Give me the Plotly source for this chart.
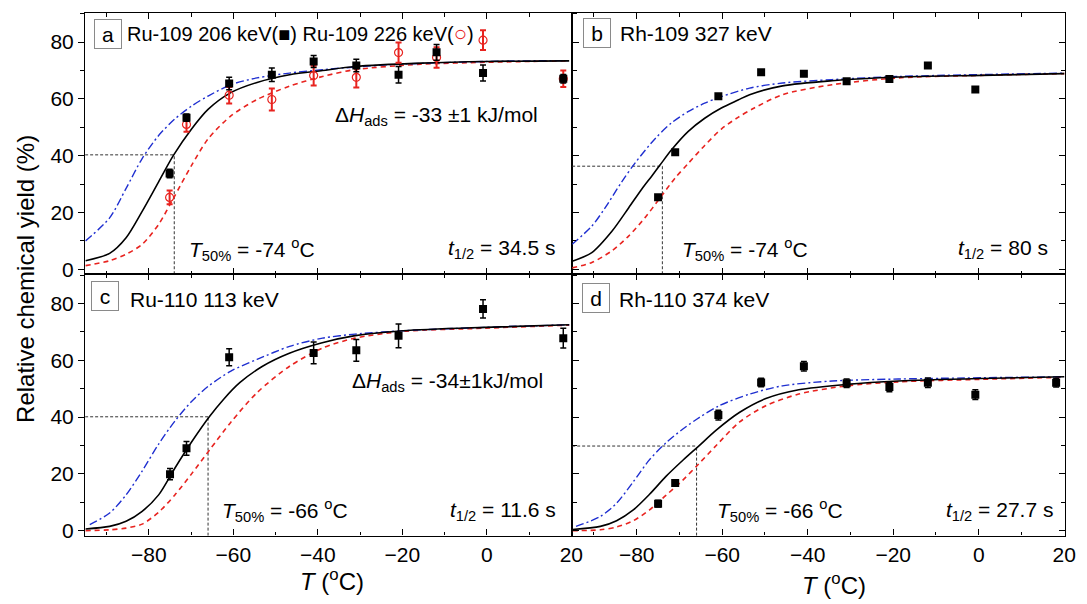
import plotly.graph_objects as go

# ---------------- measured yields ----------------
T_a = [-75.1, -71.1, -61.0, -50.9, -41.0, -30.9, -20.9, -11.9, -0.9, 18.1]
Y_a_206 = [33.7, 53.4, 65.4, 68.5, 73.2, 71.8, 68.5, 76.4, 69.1, 67.1]
E_a_206 = [1.5, 1.3, 2.2, 2.4, 2.1, 2.2, 2.9, 2.8, 2.8, 1.5]
Y_a_226 = [25.3, 51.0, 61.3, 59.8, 68.2, 67.6, 76.3, 74.6, 80.7, 67.1]
E_a_226 = [2.4, 2.6, 2.9, 3.9, 3.5, 3.6, 3.6, 3.6, 3.5, 2.9]

T_b = [-75.0, -71.0, -60.9, -50.9, -40.9, -30.9, -20.9, -11.9, -0.8]
Y_b = [25.4, 41.2, 60.9, 69.4, 68.9, 66.2, 67.0, 71.8, 63.3]

T_c = [-75.0, -71.1, -61.0, -41.0, -30.9, -20.9, -0.9, 18.1]
Y_c = [19.9, 29.0, 61.1, 62.6, 63.5, 68.6, 78.1, 67.8]
E_c = [2.0, 2.4, 3.0, 3.8, 3.8, 4.2, 3.2, 3.5]

T_d = [-75.0, -71.0, -60.9, -50.9, -40.9, -30.9, -20.9, -11.9, -0.8, 18.1]
Y_d = [9.5, 16.8, 40.7, 52.2, 57.9, 51.9, 50.6, 52.1, 47.9, 52.1]
E_d = [1.2, 1.0, 1.7, 1.5, 1.7, 1.5, 1.7, 1.7, 1.7, 1.5]

# ---------------- model curves (fit, upper and lower bound) ----------------
Ta_fit = [-95.0, -89.3, -85.4, -81.6, -77.7, -74.2, -69.9, -66.0, -60.6, -54.4, -46.7, -38.9, -31.2, -15.6, -0.2, 19.5]
Ya_fit = [3.0, 5.6, 11.1, 20.4, 30.8, 40.1, 49.4, 56.3, 62.2, 65.8, 68.5, 70.0, 71.4, 72.6, 73.2, 73.4]
Ta_hi = [-95.0, -89.3, -85.4, -81.6, -77.7, -73.9, -69.9, -66.0, -60.6, -54.4, -46.7, -38.9, -23.4, -0.2, 19.5]
Ya_hi = [10.0, 18.1, 28.5, 39.0, 47.1, 52.9, 57.5, 61.0, 65.0, 67.4, 69.1, 70.3, 72.0, 73.2, 73.5]
Ta_lo = [-95.0, -89.3, -85.4, -81.6, -77.7, -74.2, -69.9, -66.0, -60.6, -54.4, -46.7, -38.9, -31.2, -15.6, -0.2, 19.5]
Ya_lo = [1.3, 3.0, 5.3, 8.8, 15.8, 25.0, 36.6, 45.9, 54.0, 59.8, 64.5, 67.9, 70.3, 72.2, 72.9, 73.4]

Tb_fit = [-95.1, -90.5, -85.8, -81.9, -78.8, -76.5, -74.6, -71.9, -68.0, -64.1, -60.2, -56.3, -53.6, -45.9, -34.3, -18.8, 0.6, 20.0]
Yb_fit = [2.8, 5.9, 13.4, 21.6, 28.3, 32.8, 36.6, 42.0, 48.5, 53.2, 56.8, 59.6, 61.5, 64.6, 66.4, 67.7, 68.3, 68.9]
Tb_hi = [-95.1, -90.5, -87.4, -83.5, -80.4, -75.7, -71.9, -68.0, -64.1, -60.2, -53.6, -45.9, -34.3, -18.8, 20.0]
Yb_hi = [8.8, 15.2, 21.6, 30.8, 37.4, 46.0, 51.5, 55.5, 58.5, 60.8, 63.8, 65.6, 66.8, 67.9, 69.1]
Tb_lo = [-95.1, -90.5, -85.8, -81.9, -78.1, -74.6, -71.1, -68.0, -64.1, -60.2, -56.3, -52.5, -45.9, -34.3, -18.8, 0.6, 20.0]
Yb_lo = [0.5, 2.4, 6.5, 11.7, 18.1, 25.0, 32.0, 37.2, 43.6, 49.4, 53.5, 56.8, 61.5, 65.0, 67.4, 68.3, 68.9]

Tc_fit = [-95.0, -89.3, -85.4, -81.6, -77.7, -73.9, -69.9, -65.7, -62.3, -58.5, -53.1, -46.9, -39.2, -31.5, -19.8, -0.5, 19.5]
Yc_fit = [0.6, 1.5, 3.3, 6.8, 12.6, 21.9, 31.2, 40.1, 46.3, 52.1, 57.9, 62.4, 66.1, 68.6, 70.4, 71.6, 72.5]
Tc_hi = [-94.0, -89.3, -85.4, -81.6, -77.7, -73.9, -69.9, -66.0, -60.6, -54.4, -46.7, -38.9, -31.2, -19.8, -0.5, 19.5]
Yc_hi = [2.1, 6.2, 12.6, 21.0, 30.5, 38.5, 45.5, 50.8, 56.2, 60.3, 64.9, 67.8, 69.2, 70.4, 71.6, 72.5]
Tc_lo = [-95.0, -89.3, -85.4, -81.6, -77.7, -73.9, -69.9, -65.7, -60.6, -54.4, -46.7, -38.9, -31.2, -19.6, -0.5, 19.5]
Yc_lo = [0.0, 0.3, 0.9, 2.3, 6.5, 12.5, 20.0, 28.3, 38.2, 48.6, 57.9, 64.3, 67.8, 70.2, 71.3, 72.4]

Td_fit = [-95.0, -88.5, -84.7, -80.8, -77.0, -73.1, -69.2, -65.5, -61.4, -56.0, -49.8, -42.1, -30.9, -18.8, 0.6, 20.0]
Yd_fit = [0.4, 1.5, 3.5, 7.3, 12.8, 19.2, 24.8, 29.8, 35.4, 41.6, 46.5, 49.6, 51.5, 52.7, 53.6, 54.2]
Td_hi = [-94.2, -88.5, -84.7, -80.8, -77.0, -73.1, -69.2, -65.3, -60.7, -53.6, -45.9, -34.3, -18.8, 20.0]
Yd_hi = [1.5, 5.0, 9.7, 17.2, 25.0, 31.0, 35.8, 39.9, 44.0, 48.1, 51.0, 52.7, 53.4, 54.2]
Td_lo = [-95.0, -88.5, -84.7, -80.8, -77.0, -73.1, -69.2, -65.5, -61.4, -56.0, -49.8, -42.1, -30.9, -18.8, 0.6, 20.0]
Yd_lo = [0.0, 0.3, 1.3, 3.5, 7.3, 12.5, 17.8, 23.5, 30.0, 38.2, 44.0, 48.1, 51.0, 52.4, 53.3, 54.0]

# half-yield temperatures and the yield at that point
T50 = {"a": -74, "b": -74, "c": -66, "d": -66}
Y50 = {"a": 40.3, "b": 36.3, "c": 40.1, "d": 29.8}

X_RANGE = [-95.1, 20.2]
Y_RANGE = [-1.75, 90.3]
X_TICKS = [-80, -60, -40, -20, 0, 20]
Y_TICKS = [0, 20, 40, 60, 80]

W, H = 1087, 604
FONT = "Arial, Liberation Sans, sans-serif"
RED = "#e8231f"
BLUE = "#1f2fd0"

fig = go.Figure()

panels = {
    "a": dict(xa="x", ya="y"),
    "b": dict(xa="x2", ya="y2"),
    "c": dict(xa="x3", ya="y3"),
    "d": dict(xa="x4", ya="y4"),
}
curves = {
    "a": ((Ta_fit, Ya_fit), (Ta_hi, Ya_hi), (Ta_lo, Ya_lo)),
    "b": ((Tb_fit, Yb_fit), (Tb_hi, Yb_hi), (Tb_lo, Yb_lo)),
    "c": ((Tc_fit, Yc_fit), (Tc_hi, Yc_hi), (Tc_lo, Yc_lo)),
    "d": ((Td_fit, Yd_fit), (Td_hi, Yd_hi), (Td_lo, Yd_lo)),
}

guide = dict(color="#333", width=1, dash="3px,2px")
for key, ax in panels.items():
    xa, ya = ax["xa"], ax["ya"]
    # T50% guide lines
    fig.add_trace(go.Scatter(x=[X_RANGE[0], T50[key]], y=[Y50[key], Y50[key]], mode="lines",
                             line=guide, xaxis=xa, yaxis=ya, showlegend=False, hoverinfo="skip"))
    fig.add_trace(go.Scatter(x=[T50[key], T50[key]], y=[Y_RANGE[0], Y50[key]], mode="lines",
                             line=guide, xaxis=xa, yaxis=ya, showlegend=False, hoverinfo="skip"))
    (fx, fy), (hx, hy), (lx, ly) = curves[key]
    fig.add_trace(go.Scatter(x=lx, y=ly, mode="lines",
                             line=dict(color=RED, width=1.6, dash="5px,4px", shape="spline", smoothing=0.8),
                             xaxis=xa, yaxis=ya, showlegend=False))
    fig.add_trace(go.Scatter(x=hx, y=hy, mode="lines",
                             line=dict(color=BLUE, width=1.4, dash="8px,3px,2px,3px", shape="spline", smoothing=0.8),
                             xaxis=xa, yaxis=ya, showlegend=False))
    fig.add_trace(go.Scatter(x=fx, y=fy, mode="lines",
                             line=dict(color="black", width=1.6, shape="spline", smoothing=0.8),
                             xaxis=xa, yaxis=ya, showlegend=False))

# measured points
sq = dict(symbol="square", size=8, color="black")
fig.add_trace(go.Scatter(x=T_a, y=Y_a_226, mode="markers",
                         marker=dict(symbol="circle-open", size=8, color=RED, line=dict(width=1.2)),
                         error_y=dict(type="data", array=E_a_226, color=RED, thickness=2, width=3),
                         xaxis="x", yaxis="y", showlegend=False))
fig.add_trace(go.Scatter(x=T_a, y=Y_a_206, mode="markers", marker=sq,
                         error_y=dict(type="data", array=E_a_206, color="black", thickness=1.5, width=3),
                         xaxis="x", yaxis="y", showlegend=False))
fig.add_trace(go.Scatter(x=T_b, y=Y_b, mode="markers", marker=sq, xaxis="x2", yaxis="y2", showlegend=False))
fig.add_trace(go.Scatter(x=T_c, y=Y_c, mode="markers", marker=sq,
                         error_y=dict(type="data", array=E_c, color="black", thickness=1.5, width=3),
                         xaxis="x3", yaxis="y3", showlegend=False))
fig.add_trace(go.Scatter(x=T_d, y=Y_d, mode="markers", marker=sq,
                         error_y=dict(type="data", array=E_d, color="black", thickness=1.5, width=3),
                         xaxis="x4", yaxis="y4", showlegend=False))

# axes
xdom_l = [86 / W, 578 / W]
xdom_r = [578 / W, 1076 / W]
ydom_t = [1 - 277 / H, 1 - 13 / H]
ydom_b = [1 - 541 / H, 1 - 277 / H]

common = dict(showline=True, linecolor="black", linewidth=1.3, mirror="ticks", showgrid=False,
              zeroline=False, ticklen=6, tickwidth=1.2, tickcolor="black",
              tickfont=dict(family=FONT, size=21, color="black"))
xcommon = dict(common, range=X_RANGE, tickvals=X_TICKS, ticks="inside",
               minor=dict(dtick=10, tick0=-90, ticklen=3.5, tickwidth=1, ticks="inside", tickcolor="black"))
ycommon = dict(common, range=Y_RANGE, tickvals=Y_TICKS,
               minor=dict(dtick=10, tick0=10, ticklen=3.5, tickwidth=1, tickcolor="black"))

fig.update_layout(
    xaxis=dict(xcommon, domain=xdom_l, anchor="y", showticklabels=False),
    yaxis=dict(ycommon, domain=ydom_t, anchor="x", ticks="outside"),
    xaxis2=dict(xcommon, domain=xdom_r, anchor="y2", showticklabels=False),
    yaxis2=dict(ycommon, domain=ydom_t, anchor="x2", ticks="inside", showticklabels=False),
    xaxis3=dict(xcommon, domain=xdom_l, anchor="y3"),
    yaxis3=dict(ycommon, domain=ydom_b, anchor="x3", ticks="outside"),
    xaxis4=dict(xcommon, domain=xdom_r, anchor="y4"),
    yaxis4=dict(ycommon, domain=ydom_b, anchor="x4", ticks="inside", showticklabels=False),
)
fig.update_layout(yaxis=dict(minor=dict(ticks="outside")), yaxis3=dict(minor=dict(ticks="outside")),
                  yaxis2=dict(minor=dict(ticks="inside")), yaxis4=dict(minor=dict(ticks="inside")))


def px(x, y):
    return x / W, 1 - y / H


ann = []


def text(x, y, s, size=20, xanchor="left", yanchor="middle", **kw):
    xp, yp = px(x, y)
    ann.append(dict(x=xp, y=yp, xref="paper", yref="paper", text=s, showarrow=False,
                    xanchor=xanchor, yanchor=yanchor,
                    font=dict(family=FONT, size=size, color="black"), **kw))


def letter(x, y, s):
    xp, yp = px(x, y)
    ann.append(dict(x=xp, y=yp, xref="paper", yref="paper", text=s, showarrow=False,
                    xanchor="center", yanchor="middle", bordercolor="#8a8a8a", borderwidth=1,
                    borderpad=3, width=20, height=22,
                    font=dict(family=FONT, size=21, color="black")))


letter(109, 34, "a")
letter(603, 33, "b")
letter(106, 299, "c")
letter(602, 301, "d")

text(126, 34, "Ru-109 206 keV(■) Ru-109 226 keV(<span style='color:#e8231f;font-size:22px'>○</span>)", size=20)
text(624, 34, "Rh-109 327 keV", size=21)
text(129, 302, "Ru-110 113 keV", size=21)
text(623, 302, "Rh-110 374 keV", size=21)

text(336, 117, "Δ<i>H</i><sub>ads</sub> = -33 ±1 kJ/mol", size=21)
text(354, 386, "Δ<i>H</i><sub>ads</sub> = -34±1kJ/mol", size=21)

text(189, 252, "<i>T</i><sub>50%</sub> = -74 <sup>o</sup>C", size=21)
text(687, 252, "<i>T</i><sub>50%</sub> = -74 <sup>o</sup>C", size=21)
text(222, 516, "<i>T</i><sub>50%</sub> = -66 <sup>o</sup>C", size=21)
text(722, 516, "<i>T</i><sub>50%</sub> = -66 <sup>o</sup>C", size=21)

text(563, 252, "<i>t</i><sub>1/2</sub> = 34.5 s", size=21, xanchor="right")
text(1061, 252, "<i>t</i><sub>1/2</sub> = 80 s", size=21, xanchor="right")
text(564, 516, "<i>t</i><sub>1/2</sub> = 11.6 s", size=21, xanchor="right")
text(1066, 516, "<i>t</i><sub>1/2</sub> = 27.7 s", size=21, xanchor="right")

# axis titles
text(25, 282, "Relative chemical yield (%)", size=24, xanchor="center", textangle=-90)
text(335, 586, "<i>T</i> (<sup>o</sup>C)", size=24, xanchor="center")
text(843, 590, "<i>T</i> (<sup>o</sup>C)", size=24, xanchor="center")

fig.update_layout(annotations=ann, width=W, height=H,
                  margin=dict(l=0, r=0, t=0, b=0),
                  paper_bgcolor="white", plot_bgcolor="white")

fig.write_html("out.html")
